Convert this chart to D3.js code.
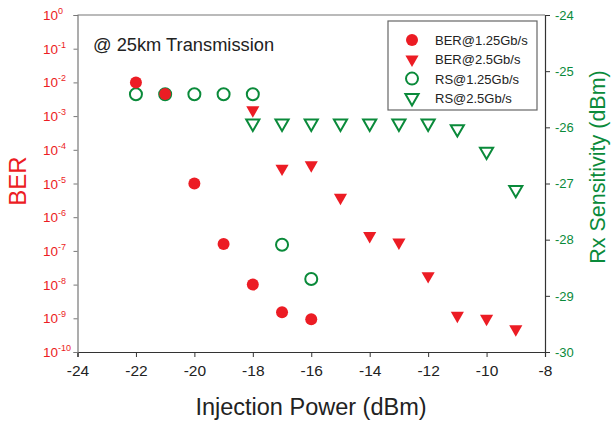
<!DOCTYPE html>
<html>
<head>
<meta charset="utf-8">
<script src="https://cdn.jsdelivr.net/npm/d3@7"></script>
<style>
  body { margin: 0; background: #fff; }
  text { font-family: "Liberation Sans", Arial, sans-serif; }
</style>
</head>
<body>
<svg id="chart"></svg>
<script>
// injection power (dBm)
var berPower125 = [-22, -21, -20, -19, -18, -17, -16];
var ber125 = [1e-2, 4.5e-3, 1e-5, 1.6e-7, 1e-8, 1.5e-9, 9.3e-10];

var berPower25 = [-18, -17, -16, -15, -14, -13, -12, -11, -10, -9];
var ber25 = [1.5e-3, 2.8e-5, 3.5e-5, 3.8e-6, 2.8e-7, 1.8e-7, 1.8e-8, 1.2e-9, 9.8e-10, 4.8e-10];

var rsPower125 = [-22, -21, -20, -19, -18, -17, -16];
var rs125 = [-25.41, -25.41, -25.41, -25.41, -25.41, -28.09, -28.7];

var rsPower25 = [-18, -17, -16, -15, -14, -13, -12, -11, -10, -9];
var rs25 = [-25.93, -25.93, -25.93, -25.93, -25.93, -25.93, -25.93, -26.03, -26.43, -27.11];

var xTicks = [-24, -22, -20, -18, -16, -14, -12, -10, -8];
var berExps = [0, -1, -2, -3, -4, -5, -6, -7, -8, -9, -10];
var rsTicks = [-24, -25, -26, -27, -28, -29, -30];
var legendLabels = ["BER@1.25Gb/s", "BER@2.5Gb/s", "RS@1.25Gb/s", "RS@2.5Gb/s"];

(function() {
var w = 611, h = 423;
var mLeft = 77.5, mRight = 545, mTop = 15, mBottom = 352;
var red = "#ec1c24", green = "#0a8a3a", dark = "#333333";

var svg = d3.select("#chart").attr("width", w).attr("height", h);

var x = d3.scaleLinear().domain([-24, -8]).range([mLeft, mRight]);
var yBer = d3.scaleLog().domain([1e-10, 1]).range([mBottom, mTop]);
var yRs = d3.scaleLinear().domain([-30, -24]).range([mBottom, mTop]);

// frame top
svg.append("line").attr("x1", mLeft).attr("x2", mRight).attr("y1", mTop).attr("y2", mTop)
    .attr("stroke", "#777").attr("stroke-width", 1.2);

// bottom axis
var xAxis = svg.append("g").attr("transform", "translate(0," + mBottom + ")")
    .call(d3.axisBottom(x).tickValues(xTicks).tickSize(5).tickPadding(8).tickFormat(d3.format("d")));
xAxis.select(".domain").attr("stroke", dark).attr("stroke-width", 1.2);
xAxis.selectAll(".tick line").attr("stroke", dark);
xAxis.selectAll(".tick text").attr("fill", "#222").attr("font-size", 15.5)
    .attr("font-family", "Liberation Sans, Arial, sans-serif")
    .text(function(d) { return d; });

// left axis (BER, log)
var yAxisL = svg.append("g").attr("transform", "translate(" + mLeft + ",0)")
    .call(d3.axisLeft(yBer).tickValues(berExps.map(function(e) { return Math.pow(10, e); }))
        .tickSize(4).tickFormat(""));
yAxisL.select(".domain").attr("stroke", "#777").attr("stroke-width", 1.2);
yAxisL.selectAll(".tick line").attr("stroke", "#777");

var lbl = svg.append("g").selectAll("text").data(berExps).enter().append("text")
    .attr("x", 43)
    .attr("y", function(d) { return yBer(Math.pow(10, d)) + 5; })
    .attr("fill", red).attr("font-size", 13.5);
lbl.append("tspan").text("10");
lbl.append("tspan").attr("font-size", 9).attr("dy", -6).text(function(d) { return d; });

// right axis (RS)
var yAxisR = svg.append("g").attr("transform", "translate(" + mRight + ",0)")
    .call(d3.axisRight(yRs).tickValues(rsTicks).tickSize(5).tickPadding(5).tickFormat(d3.format("d")));
yAxisR.select(".domain").attr("stroke", dark).attr("stroke-width", 1.2);
yAxisR.selectAll(".tick line").attr("stroke", dark);
yAxisR.selectAll(".tick text").attr("fill", green).attr("font-size", 13)
    .attr("font-family", "Liberation Sans, Arial, sans-serif")
    .text(function(d) { return d; });

// titles
svg.append("text").attr("transform", "translate(26,181) rotate(-90)")
    .attr("text-anchor", "middle").attr("fill", red).attr("font-size", 24).text("BER");
svg.append("text").attr("transform", "translate(605,167) rotate(-90)")
    .attr("text-anchor", "middle").attr("fill", green).attr("font-size", 21.5).text("Rx Sensitivity (dBm)");
svg.append("text").attr("x", 311).attr("y", 415)
    .attr("text-anchor", "middle").attr("fill", "#222").attr("font-size", 23.5).text("Injection Power (dBm)");
svg.append("text").attr("x", 93).attr("y", 51)
    .attr("fill", "#222").attr("font-size", 18.3).text("@ 25km Transmission");

var tri = d3.symbol().type(d3.symbolTriangle).size(75);

function zip(a, b) { return a.map(function(v, i) { return [v, b[i]]; }); }

// RS@1.25 open circles
svg.append("g").selectAll("circle").data(zip(rsPower125, rs125)).enter().append("circle")
    .attr("cx", function(d) { return x(d[0]); })
    .attr("cy", function(d) { return yRs(d[1]); })
    .attr("r", 6).attr("fill", "none").attr("stroke", green).attr("stroke-width", 2);

// RS@2.5 open triangles
svg.append("g").selectAll("path").data(zip(rsPower25, rs25)).enter().append("path")
    .attr("d", tri)
    .attr("transform", function(d) { return "translate(" + x(d[0]) + "," + yRs(d[1]) + ") rotate(180)"; })
    .attr("fill", "none").attr("stroke", green).attr("stroke-width", 2);

// BER@1.25 filled circles
svg.append("g").selectAll("circle").data(zip(berPower125, ber125)).enter().append("circle")
    .attr("cx", function(d) { return x(d[0]); })
    .attr("cy", function(d) { return yBer(d[1]); })
    .attr("r", 6).attr("fill", red);

// BER@2.5 filled triangles
svg.append("g").selectAll("path").data(zip(berPower25, ber25)).enter().append("path")
    .attr("d", tri)
    .attr("transform", function(d) { return "translate(" + x(d[0]) + "," + yBer(d[1]) + ") rotate(180)"; })
    .attr("fill", red);

// legend
var lg = svg.append("g");
lg.append("rect").attr("x", 388).attr("y", 21).attr("width", 149).attr("height", 89)
    .attr("fill", "#fff").attr("stroke", "#666").attr("stroke-width", 1.2);
var rows = lg.selectAll("g.row").data(legendLabels).enter().append("g")
    .attr("transform", function(d, i) { return "translate(412," + (40 + i * 19.3) + ")"; });
rows.each(function(d, i) {
    var g = d3.select(this);
    if (i === 0) g.append("circle").attr("r", 6).attr("fill", red);
    if (i === 1) g.append("path").attr("d", tri).attr("transform", "rotate(180)").attr("fill", red);
    if (i === 2) g.append("circle").attr("r", 6).attr("fill", "none").attr("stroke", green).attr("stroke-width", 2);
    if (i === 3) g.append("path").attr("d", tri).attr("transform", "rotate(180)")
        .attr("fill", "none").attr("stroke", green).attr("stroke-width", 2);
});
rows.append("text").attr("x", 23).attr("y", 5).attr("fill", "#222").attr("font-size", 13)
    .text(function(d) { return d; });
})();
</script>
</body>
</html>
